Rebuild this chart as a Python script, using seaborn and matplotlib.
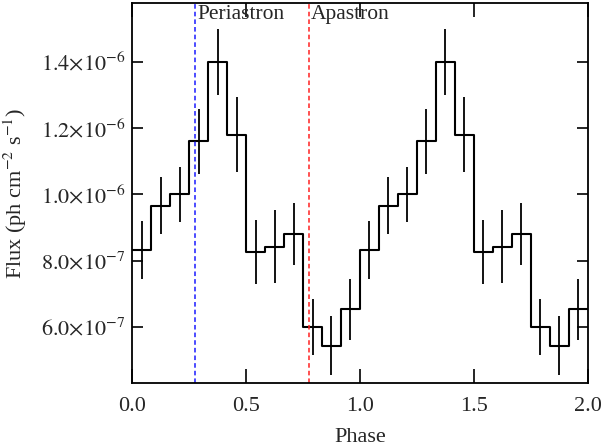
import numpy as np
import matplotlib
matplotlib.use("Agg")
import matplotlib.pyplot as plt
import seaborn as sns
from matplotlib.ticker import FuncFormatter, MultipleLocator

# one orbital period, 12 phase bins (shown twice)
bin_width = 1.0 / 12
flux = [8.33e-7, 9.66e-7, 1.00e-6, 1.16e-6, 1.40e-6, 1.18e-6,
        8.27e-7, 8.42e-7, 8.80e-7, 6.00e-7, 5.43e-7, 6.53e-7]
flux_err = [0.88e-7, 0.86e-7, 0.82e-7, 0.98e-7, 1.00e-7, 1.14e-7,
            0.97e-7, 1.10e-7, 0.94e-7, 0.84e-7, 0.89e-7, 0.93e-7]
periastron = 0.275
apastron = 0.775

sns.set_style("ticks")
plt.rcParams['font.family'] = ['Liberation Serif', 'DejaVu Serif']
plt.rcParams['mathtext.fontset'] = 'stix'

flux2 = np.tile(flux, 2)
err2 = np.tile(flux_err, 2)
edges = np.arange(len(flux2) + 1) * bin_width
centers = edges[:-1] + bin_width / 2

fig = plt.figure(figsize=(6.02, 4.47), dpi=100)
ax = fig.add_axes([0.2193, 0.1432, 0.7574, 0.8501])

sns.lineplot(x=edges, y=np.append(flux2, flux2[-1]), drawstyle='steps-post',
             estimator=None, color='black', linewidth=1.5, ax=ax)
ax.errorbar(centers, flux2, yerr=err2, fmt='none', ecolor='black',
            elinewidth=1.3, capsize=0)

ax.axvline(periastron, color='#1a1aff', linestyle=(0, (3, 2)), linewidth=1.1)
ax.axvline(apastron, color='#ff2020', linestyle=(0, (3, 2)), linewidth=1.1)
ax.text(periastron + 0.01, 1.572e-6, 'Periastron', fontsize=15.5, va='top')
ax.text(apastron + 0.01, 1.572e-6, 'Apastron', fontsize=15.5, va='top')

ax.set_xlim(0, 2)
ax.set_ylim(4.31e-7, 1.577e-6)
ax.xaxis.set_major_locator(MultipleLocator(0.5))
ax.yaxis.set_major_locator(MultipleLocator(2e-7))


def sci(v, pos):
    if v <= 0:
        return ''
    e = int(np.floor(np.log10(v) + 1e-9))
    m = v / 10 ** e
    return r'$%.1f{\times}10^{%d}$' % (m, e)


ax.yaxis.set_major_formatter(FuncFormatter(sci))
ax.xaxis.set_major_formatter(FuncFormatter(lambda v, p: '%.1f' % v))
ax.tick_params(direction='in', top=True, right=True, labelsize=16,
               width=1.2, color='black')
ax.tick_params(axis='x', length=10, pad=10)
ax.tick_params(axis='y', length=8, pad=5)
for s in ax.spines.values():
    s.set_linewidth(1.3)
    s.set_color('black')

ax.set_xlabel('Phase', fontsize=16, labelpad=9)
ax.set_ylabel(r'Flux (ph cm$^{-2}$ s$^{-1}$)', fontsize=16, labelpad=8)

fig.savefig('out.png', dpi=100)
